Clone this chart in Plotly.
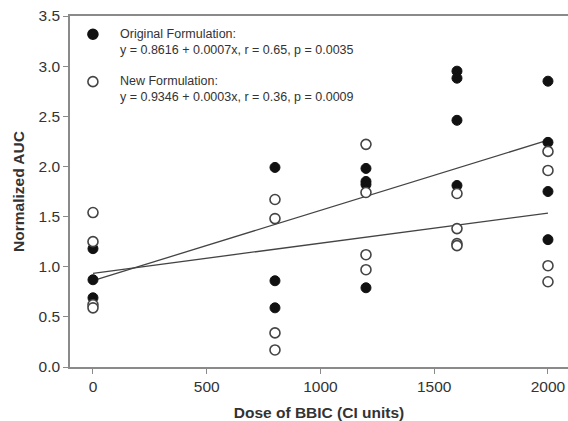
import plotly.graph_objects as go

# Data
orig_x = [0, 0, 0, 800, 800, 800, 1200, 1200, 1200, 1200, 1600, 1600, 1600, 1600, 2000, 2000, 2000, 2000]
orig_y = [1.18, 0.87, 0.69, 1.99, 0.86, 0.59, 1.98, 1.85, 1.82, 0.79, 2.95, 2.88, 2.46, 1.81, 2.85, 2.24, 1.75, 1.27]
new_x = [0, 0, 0, 0, 800, 800, 800, 800, 1200, 1200, 1200, 1200, 1600, 1600, 1600, 1600, 2000, 2000, 2000, 2000]
new_y = [1.54, 1.25, 0.62, 0.59, 1.67, 1.48, 0.34, 0.17, 2.22, 1.74, 1.12, 0.97, 1.73, 1.38, 1.23, 1.21, 2.15, 1.96, 1.01, 0.85]

orig_fit = (0.8616, 0.0007)
new_fit = (0.9346, 0.0003)
fit_x = [0, 2000]

legend_title_orig = "Original Formulation:"
legend_eq_orig = "y = 0.8616 + 0.0007x, r = 0.65, p = 0.0035"
legend_title_new = "New Formulation:"
legend_eq_new = "y = 0.9346 + 0.0003x, r = 0.36, p = 0.0009"

x_ticks = [0, 500, 1000, 1500, 2000]
y_ticks = [0.0, 0.5, 1.0, 1.5, 2.0, 2.5, 3.0, 3.5]

FONT = "Liberation Sans, Arial, sans-serif"
AXIS_COL = "#8a8a8a"
TXT = "#333333"

fig = go.Figure()

fig.add_trace(go.Scatter(
    x=fit_x, y=[orig_fit[0] + orig_fit[1] * v for v in fit_x],
    mode="lines", line=dict(color="#444444", width=1.3), showlegend=False, hoverinfo="skip"))
fig.add_trace(go.Scatter(
    x=fit_x, y=[new_fit[0] + new_fit[1] * v for v in fit_x],
    mode="lines", line=dict(color="#444444", width=1.3), showlegend=False, hoverinfo="skip"))

fig.add_trace(go.Scatter(
    x=orig_x, y=orig_y, mode="markers",
    marker=dict(size=10, color="#111111", line=dict(color="#111111", width=1)),
    showlegend=False, cliponaxis=False))
fig.add_trace(go.Scatter(
    x=new_x, y=new_y, mode="markers",
    marker=dict(size=10, color="white", line=dict(color="#444444", width=1.6)),
    showlegend=False, cliponaxis=False))

# Legend markers (pixel-sized circles anchored in paper coordinates)
def legend_circle(yp, fill, outline):
    return dict(type="circle", xref="paper", yref="paper",
                xsizemode="pixel", ysizemode="pixel",
                xanchor=0.046, yanchor=yp,
                x0=-5, x1=5, y0=-5, y1=5,
                fillcolor=fill, line=dict(color=outline, width=1.6))

fig.add_shape(legend_circle(0.948, "#111111", "#111111"))
fig.add_shape(legend_circle(0.813, "white", "#444444"))

ann_font = dict(family=FONT, size=12.5, color=TXT)
for text, yp in [(legend_title_orig, 0.948), (legend_eq_orig, 0.903),
                 (legend_title_new, 0.814), (legend_eq_new, 0.769)]:
    fig.add_annotation(x=0.0964, y=yp, xref="paper", yref="paper", text=text,
                       showarrow=False, xanchor="left", yanchor="middle", font=ann_font)

fig.update_layout(
    width=568, height=421,
    margin=dict(l=70, r=0, t=16, b=54),
    paper_bgcolor="white", plot_bgcolor="white",
    font=dict(family=FONT, color=TXT),
    xaxis=dict(
        range=[-101, 2088], tickvals=x_ticks, ticktext=[str(v) for v in x_ticks],
        showgrid=False, zeroline=False, showline=True, linecolor=AXIS_COL, linewidth=1.5,
        mirror=True, ticks="outside", ticklen=5, tickcolor=AXIS_COL, tickwidth=1.2,
        tickfont=dict(size=15.5, color=TXT, family=FONT),
        title=dict(text="<b>Dose of BBIC (CI units)</b>", font=dict(size=15.5, color=TXT, family=FONT), standoff=15),
    ),
    yaxis=dict(
        range=[0, 3.5], tickvals=y_ticks, ticktext=[f"{v:.1f}" for v in y_ticks],
        showgrid=False, zeroline=False, showline=True, linecolor=AXIS_COL, linewidth=1.5,
        ticks="outside", ticklen=5, tickcolor=AXIS_COL, tickwidth=1.2,
        tickfont=dict(size=15.5, color=TXT, family=FONT),
        title=dict(text="<b>Normalized AUC</b>", font=dict(size=15.5, color=TXT, family=FONT), standoff=10),
    ),
)

fig.write_html("out.html", config={"displayModeBar": False},
               post_script="document.body.style.margin='0';")
